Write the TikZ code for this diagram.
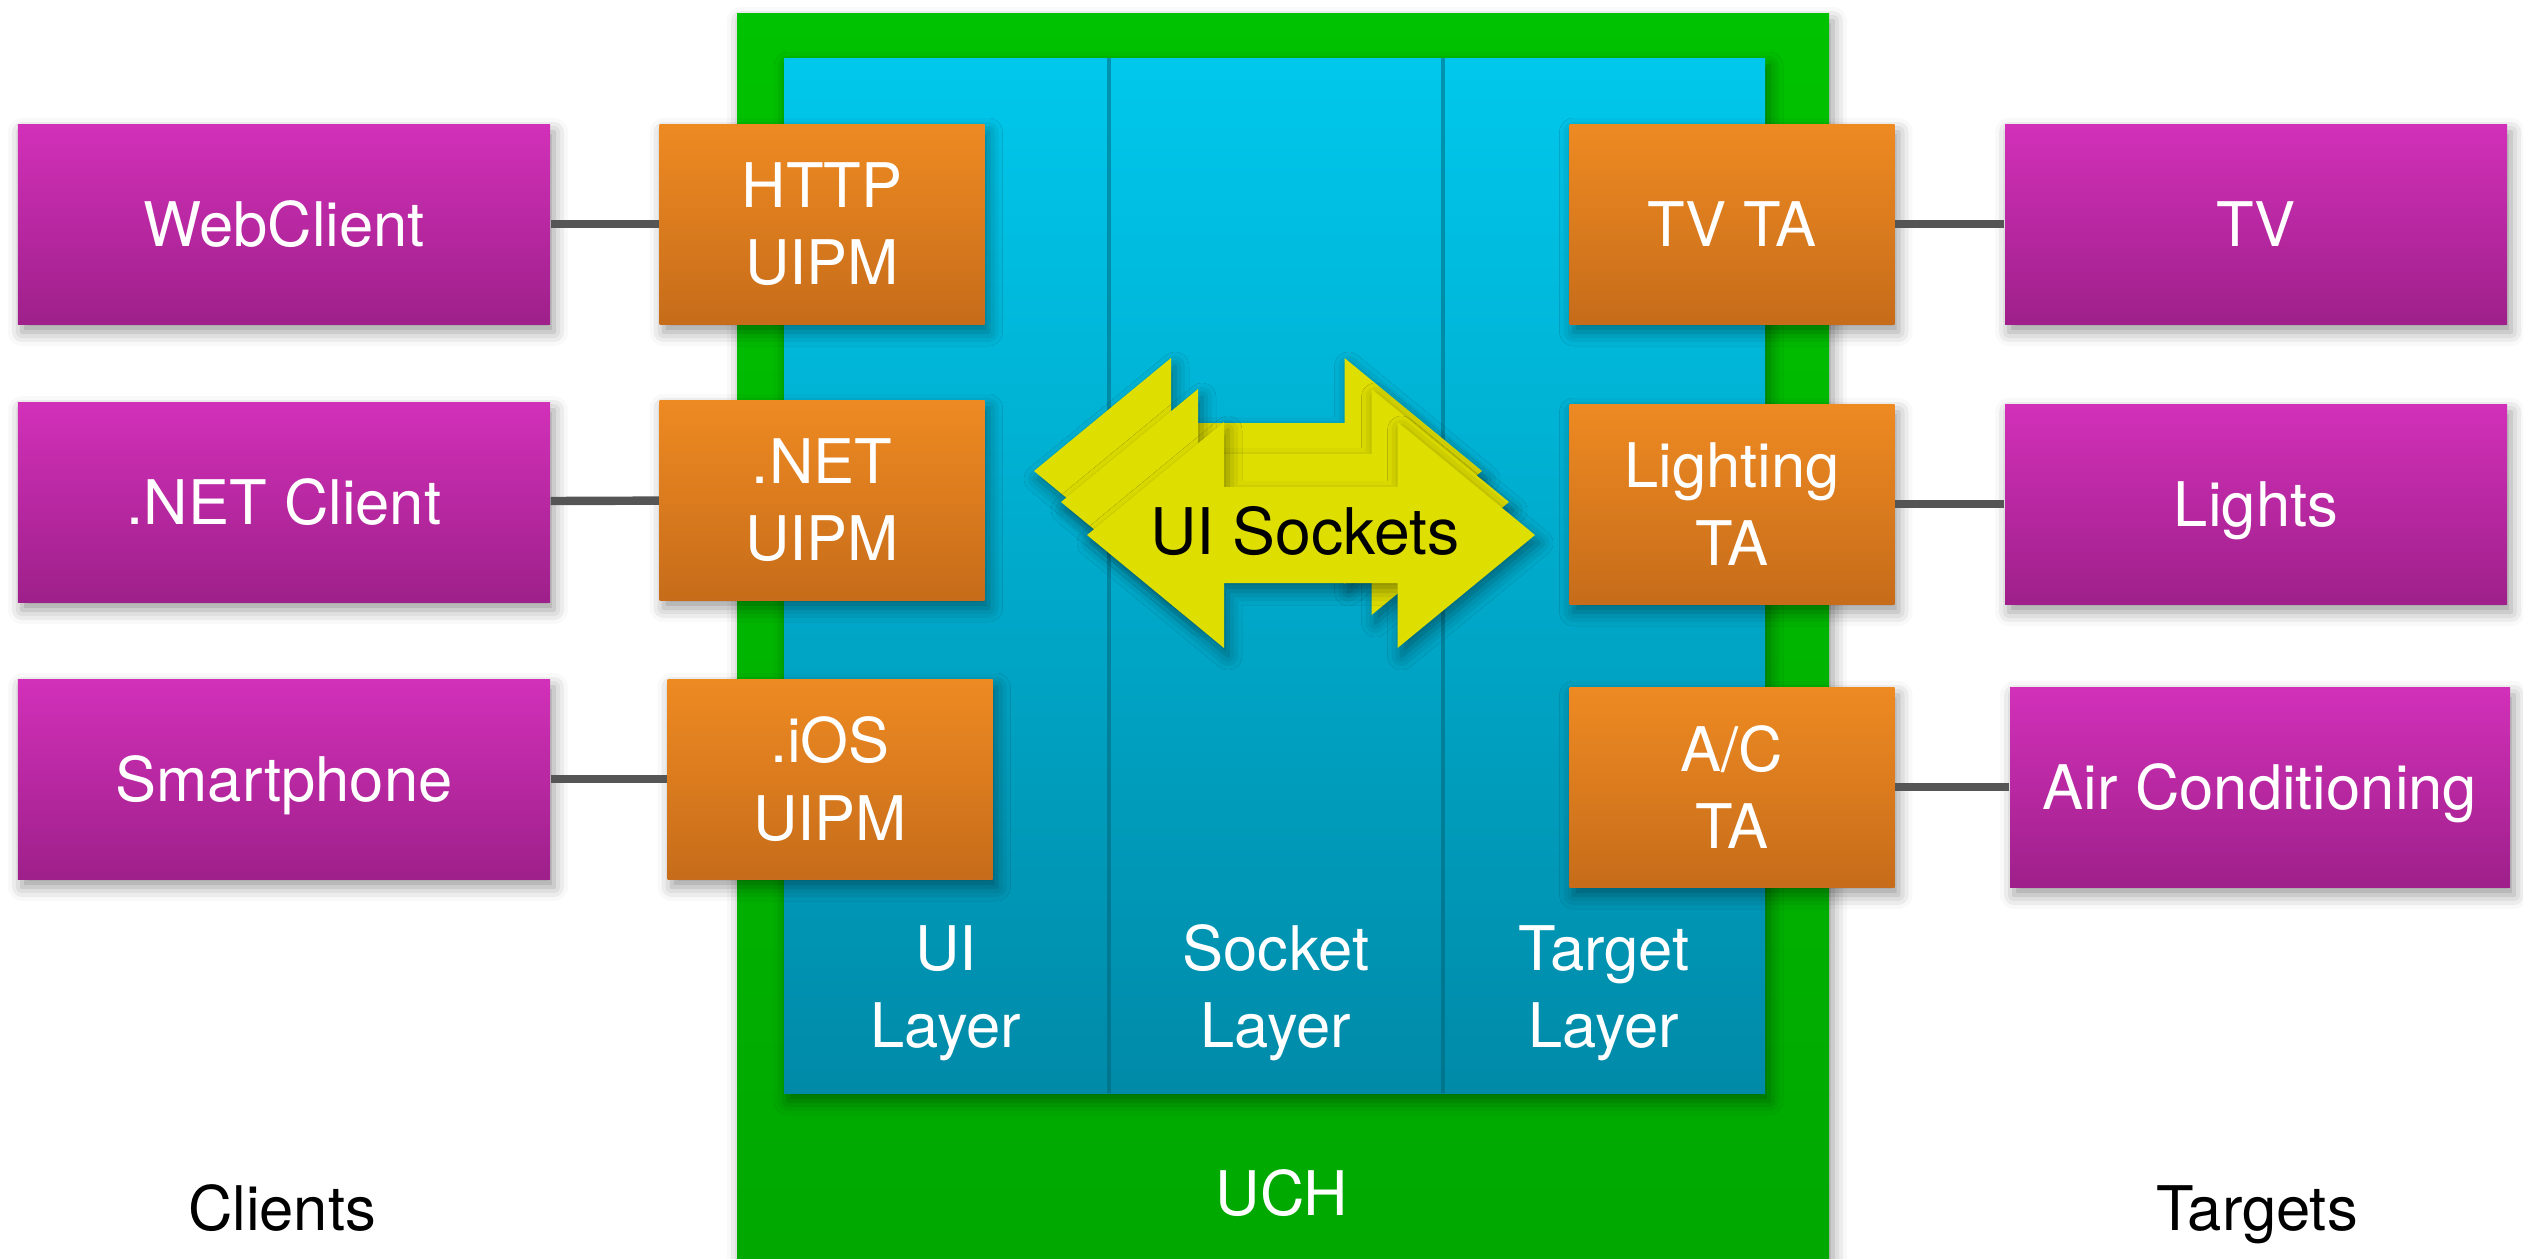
\documentclass[tikz,border=0pt]{standalone}
\usepackage{fontspec}
\setmainfont{TeX Gyre Heros}
\usetikzlibrary{shadows.blur}

\definecolor{magtop}{RGB}{210,48,185}
\definecolor{magbot}{RGB}{158,32,138}
\definecolor{orgtop}{RGB}{238,138,34}
\definecolor{orgbot}{RGB}{198,108,26}
\definecolor{uchtop}{RGB}{0,194,0}
\definecolor{uchbot}{RGB}{0,168,0}
\definecolor{laytop}{RGB}{0,200,236}
\definecolor{laybot}{RGB}{0,138,168}
\definecolor{sockyel}{RGB}{222,222,0}
\definecolor{wiregray}{RGB}{85,85,85}

\tikzset{
  lbl/.style={font=\fontsize{17.5}{22}\selectfont, align=center, inner sep=0pt},
  soft/.style={blur shadow={shadow xshift=0.04cm, shadow yshift=-0.08cm,
      shadow blur radius=0.14cm, shadow opacity=40}},
  box/.style={lbl, soft, text=white, minimum height=2cm},
  client/.style={box, text depth=0pt, minimum width=5.32cm, top color=magtop, bottom color=magbot},
  agent/.style={box, minimum width=3.25cm, top color=orgtop, bottom color=orgbot},
  wire/.style={draw=wiregray, line width=2.4pt},
}

\begin{document}
\begin{tikzpicture}
   \useasboundingbox (0,0) rectangle (25.23,-12.58);

   % UCH and its layers
   \fill[soft, top color=uchtop, bottom color=uchbot] (7.37,-0.13) rectangle (18.29,-12.58);
   \fill[soft, top color=laytop, bottom color=laybot] (7.84,-0.58) rectangle (17.65,-10.93);
   \foreach \x in {11.09,14.43}{
   \draw[laybot!70!black, line width=1pt, opacity=0.5] (\x,-0.58) -- (\x,-10.93);
   }
   \node[lbl, text=white] (uilay) at (9.46,-9.93) {UI\\Layer};
   \node[lbl, text=white] (socklay) at (12.76,-9.93) {Socket\\Layer};
   \node[lbl, text=white] (targlay) at (16.04,-9.93) {Target\\Layer};
   \node[lbl, text=white] (uch) at (12.82,-11.93) {UCH};

   \foreach \name/\txt/\y in {web/WebClient/-2.24,netc/.NET Client/-5.02,phone/Smartphone/-7.79}{
   \node[client] (\name) at (2.84,\y) {\txt};
   }
   \node[agent] (http) at (8.22,-2.24) {HTTP\\UIPM};
   \node[agent] (netpm) at (8.22,-5.00) {.NET\\UIPM};
   \node[agent] (iospm) at (8.30,-7.79) {.iOS\\UIPM};

   \node[agent] (tvta) at (17.32,-2.24) {TV TA};
   \node[agent] (lightta) at (17.32,-5.04) {Lighting\\TA};
   \node[agent] (acta) at (17.32,-7.87) {A/C\\TA};
   \node[client, minimum width=5.02cm] (tv) at (22.56,-2.24) {TV};
   \node[client, minimum width=5.02cm] (lights) at (22.56,-5.04) {Lights};
   \node[client, minimum width=5.00cm] (aircon) at (22.60,-7.87) {Air Conditioning};

   \draw[wire] (web) -- (http);
   \draw[wire] (netc) -- (netpm);
   \draw[wire] (phone) -- (iospm);
   \draw[wire] (tvta) -- (tv);
   \draw[wire] (lightta) -- (lights);
   \draw[wire] (acta) -- (aircon);

   % stacked socket arrows
   \foreach \dx/\dy in {-0.53/0.64,-0.26/0.33,0/0}{
   \fill[sockyel, soft, shift={(\dx,\dy)}] (10.87,-5.35) -- (12.24,-4.22) -- (12.24,-4.87)
     -- (13.975,-4.87) -- (13.975,-4.22) -- (15.35,-5.35) -- (13.975,-6.48)
     -- (13.975,-5.83) -- (12.24,-5.83) -- (12.24,-6.48) -- cycle;
   }
   \node[lbl, font=\fontsize{18.3}{22}\selectfont] (sockets) at (13.05,-5.31) {UI Sockets};

   \node[lbl] (clients) at (2.82,-12.08) {Clients};
   \node[lbl, text depth=0pt] (targets) at (22.57,-12.08) {Targets};
\end{tikzpicture}
\end{document}
